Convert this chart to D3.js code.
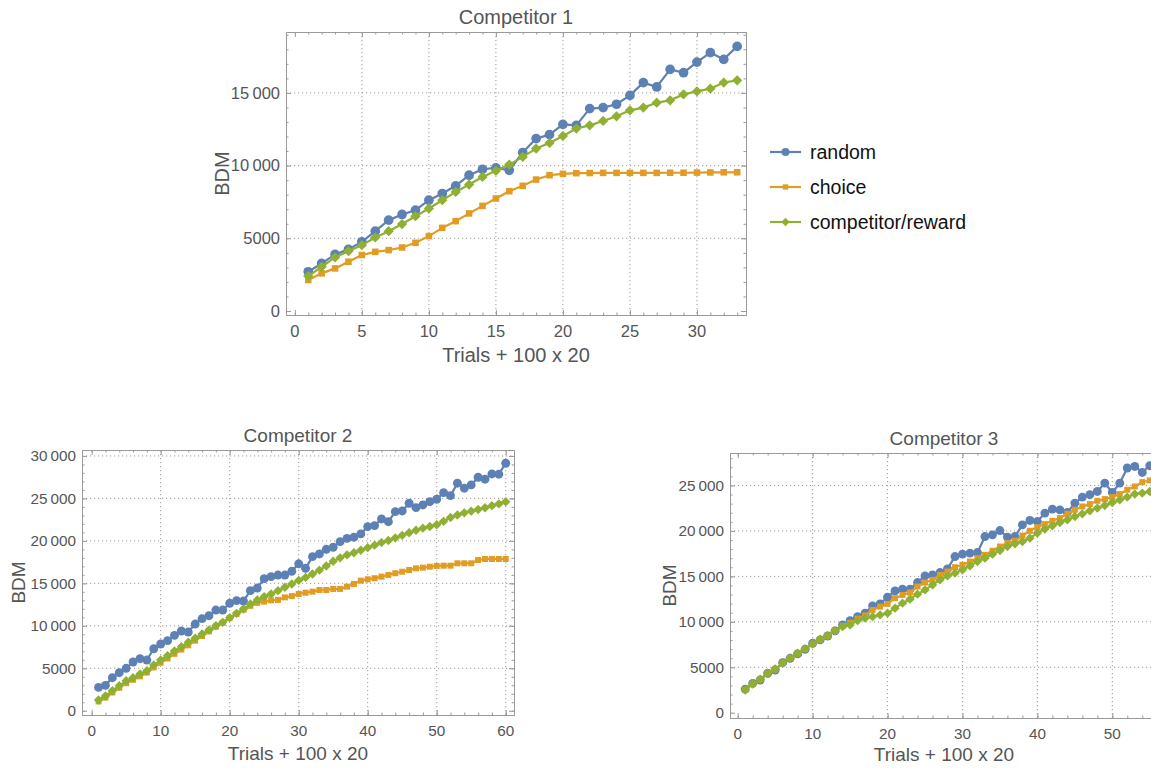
<!DOCTYPE html>
<meta charset="utf-8">
<style>
  body { margin: 0; background: #fff; }
  text { font-family: "Liberation Sans", Arial, sans-serif; }
</style>
<svg width="1151" height="768"></svg>
<script src="https://cdn.jsdelivr.net/npm/d3@7"></script>
<script>

// ---- data ----
var seriesNames = ["random", "choice", "competitor/reward"];
var xLabel = "Trials + 100 x 20";
var yLabel = "BDM";

var c1Random = [2700, 3270, 3890, 4240, 4760, 5490, 6250, 6640, 6940, 7620, 8080, 8610, 9340, 9750, 9840, 9680,
  10900, 11860, 12130, 12840, 12770, 13920, 13990, 14220, 14830, 15710, 15410, 16620, 16390, 17120, 17770, 17310, 18200];
var c1Choice = [2130, 2590, 2930, 3390, 3850, 4070, 4190, 4370, 4690, 5150, 5720, 6180, 6710, 7230, 7740, 8240,
  8610, 9040, 9340, 9430, 9480, 9490, 9500, 9500, 9500, 9500, 9500, 9510, 9510, 9520, 9530, 9540, 9540];
var c1Reward = [2400, 3045, 3690, 4120, 4530, 5060, 5490, 5980, 6520, 7050, 7620, 8190, 8700, 9220, 9640, 10070,
  10600, 11170, 11560, 12040, 12550, 12770, 13070, 13390, 13800, 13990, 14330, 14490, 14900, 15110, 15290, 15710, 15870];

var c2Random = [2750, 2990, 3890, 4480, 5000, 5740, 6130, 5970, 7300, 7860, 8250, 8880, 9390, 9270, 10210, 10840,
  11190, 11860, 11860, 12650, 12960, 12920, 14140, 14450, 15550, 15790, 15980, 15980, 16420, 17300, 16770, 18140,
  18460, 19010, 19250, 19910, 20300, 20430, 20820, 21680, 21800, 22580, 22260, 23440, 23520, 24430, 23910, 24230,
  24620, 24900, 25680, 25330, 26790, 26200, 26590, 27490, 27260, 27880, 27850, 29140];
var c2Choice = [1100, 1550, 2150, 2700, 3250, 3650, 4050, 4500, 5100, 5650, 6150, 6700, 7200, 7700, 8250, 8800,
  9350, 9900, 10350, 10900, 11400, 11900, 12350, 12700, 12850, 13000, 13050, 13350, 13500, 13750, 13900, 14020,
  14220, 14220, 14340, 14340, 14610, 14930, 15320, 15480, 15600, 15790, 15990, 16190, 16370, 16570, 16770, 16850,
  16960, 17050, 17080, 17080, 17360, 17360, 17360, 17750, 17870, 17870, 17870, 17870];
var c2Reward = [1260, 1730, 2360, 2950, 3530, 3890, 4320, 4710, 5380, 5970, 6480, 7030, 7540, 8060, 8530, 9040,
  9510, 10010, 10410, 10960, 11470, 11980, 12570, 13040, 13430, 13750, 14140, 14540, 14930, 15350, 15700, 16100,
  16550, 17050, 17600, 18000, 18350, 18600, 18900, 19200, 19500, 19800, 20050, 20350, 20650, 20950, 21250, 21500,
  21700, 21900, 22300, 22750, 23050, 23300, 23500, 23700, 23900, 24150, 24350, 24600];

var c3Random = [2600, 3230, 3600, 4340, 4700, 5510, 5990, 6470, 6980, 7640, 8010, 8440, 9000, 9660, 10130, 10570,
  10950, 11750, 11970, 12710, 13400, 13590, 13590, 14320, 15050, 15160, 15420, 15830, 17180, 17440, 17560, 17620,
  19380, 19570, 20040, 19320, 19380, 20670, 21150, 21030, 21960, 22400, 22320, 22030, 23060, 23720, 23980, 24340,
  25260, 24230, 25260, 26920, 27090, 26430, 27170];
var c3Choice = [2550, 3200, 3650, 4350, 4750, 5480, 6000, 6500, 7000, 7600, 8050, 8450, 9000, 9550, 9900, 10350,
  10700, 11310, 11670, 11970, 12600, 12960, 13220, 13880, 14320, 14610, 15160, 15530, 16010, 16270, 16630, 17000,
  17370, 17810, 18280, 18660, 18910, 19490, 20010, 20420, 20750, 21110, 21410, 21880, 22320, 22690, 22950, 23310,
  23500, 23720, 24050, 24530, 24890, 25370, 25550];
var c3Reward = [2500, 3160, 3680, 4340, 4810, 5440, 5990, 6540, 7020, 7570, 8080, 8480, 9000, 9470, 9660, 10130,
  10400, 10570, 10760, 10950, 11500, 12050, 12490, 13040, 13510, 14060, 14610, 15050, 15350, 15720, 16150, 16630,
  17000, 17440, 17840, 18280, 18580, 18830, 19200, 19760, 20200, 20560, 20930, 21220, 21590, 21880, 22210, 22510,
  22800, 23130, 23420, 23720, 24050, 24160, 24340];

// ---- styling ----
var colors = ["#5E81B5", "#E19C24", "#8FB032"];
var shapes = [d3.symbolCircle, d3.symbolSquare, d3.symbolSquare];
var rotate = [0, 0, 45];
var sizes = [62, 36, 44];

var svg = d3.select("svg");

function fmt(v) {
  if (Math.abs(v) < 10000) return String(v);
  return d3.format(",")(v).replace(/,/g, "\u2009");
}

function marker(sel, k, scale) {
  sel.attr("d", d3.symbol().type(shapes[k]).size(sizes[k] * scale)).attr("fill", colors[k]);
}

function panel(opt) {
  var g = svg.append("g");
  var x = d3.scaleLinear().domain(opt.xDomain).range([opt.left, opt.right]);
  var y = d3.scaleLinear().domain(opt.yDomain).range([opt.bottom, opt.top]);

  var clipId = "clip" + opt.id;
  svg.append("clipPath").attr("id", clipId)
    .append("rect").attr("x", opt.left).attr("y", opt.top)
    .attr("width", opt.right - opt.left).attr("height", opt.bottom - opt.top);

  // grid
  var grid = g.append("g").attr("stroke", "#9c9c9c").attr("stroke-width", 1)
    .attr("stroke-dasharray", "1.2,2.8").attr("clip-path", "url(#" + clipId + ")");
  grid.selectAll(".gx").data(opt.xTicks.filter(function(t) { return t > 0; })).enter().append("line")
    .attr("x1", function(d) { return x(d); }).attr("x2", function(d) { return x(d); })
    .attr("y1", opt.top).attr("y2", opt.bottom);
  grid.selectAll(".gy").data(opt.yTicks.filter(function(t) { return t > 0; })).enter().append("line")
    .attr("y1", function(d) { return y(d); }).attr("y2", function(d) { return y(d); })
    .attr("x1", opt.left).attr("x2", opt.right);

  // frame axes, ticks pointing inward
  var xMinor = d3.range(0, opt.xDomain[1], opt.xMinor);
  var yMinor = d3.range(0, opt.yDomain[1], 1000);
  function bits(axis, ticks, len) {
    return axis.tickValues(ticks).tickSizeInner(-len).tickSizeOuter(0).tickFormat("");
  }
  [[d3.axisBottom, opt.bottom], [d3.axisTop, opt.top]].forEach(function(a) {
    g.append("g").attr("transform", "translate(0," + a[1] + ")").call(bits(a[0](x), xMinor, 2.5));
    g.append("g").attr("transform", "translate(0," + a[1] + ")").call(bits(a[0](x), opt.xTicks, 5));
  });
  [[d3.axisLeft, opt.left], [d3.axisRight, opt.right]].forEach(function(a) {
    g.append("g").attr("transform", "translate(" + a[1] + ",0)").call(bits(a[0](y), yMinor, 2.5));
    g.append("g").attr("transform", "translate(" + a[1] + ",0)").call(bits(a[0](y), opt.yTicks, 5));
  });
  g.selectAll(".domain").attr("stroke", "#9a9a9a").attr("stroke-width", 1);
  g.selectAll(".tick line").attr("stroke", "#9a9a9a");

  // tick labels
  g.selectAll(".xl").data(opt.xTicks).enter().append("text")
    .attr("x", function(d) { return x(d); }).attr("y", opt.bottom + 16).attr("dy", "0.35em")
    .attr("text-anchor", "middle").attr("font-size", opt.fs[0]).attr("fill", "#555")
    .text(function(d) { return d; });
  g.selectAll(".yl").data(opt.yTicks).enter().append("text")
    .attr("x", opt.left - 6).attr("y", function(d) { return y(d); }).attr("dy", "0.35em")
    .attr("text-anchor", "end").attr("font-size", opt.fs[0]).attr("fill", "#555")
    .text(fmt);

  // titles
  var cx = (opt.left + opt.right) / 2;
  g.append("text").attr("x", cx).attr("y", opt.top - 8).attr("text-anchor", "middle")
    .attr("font-size", opt.fs[1]).attr("fill", "#555").text(opt.title);
  g.append("text").attr("x", cx).attr("y", opt.bottom + opt.xLabelDy).attr("text-anchor", "middle")
    .attr("font-size", opt.fs[2]).attr("fill", "#555").text(xLabel);
  g.append("text").attr("transform", "translate(" + opt.yLabelX + "," + ((opt.top + opt.bottom) / 2) + ") rotate(-90)")
    .attr("text-anchor", "middle").attr("dy", "0.35em").attr("font-size", opt.fs[2]).attr("fill", "#555").text(yLabel);

  // series
  var line = d3.line().x(function(d, i) { return x(i + 1); }).y(function(d) { return y(d); });
  var plot = g.append("g").attr("clip-path", "url(#" + clipId + ")");
  opt.series.forEach(function(s, k) {
    plot.append("path").datum(s).attr("fill", "none").attr("stroke", colors[k])
      .attr("stroke-width", 2.2).attr("stroke-linejoin", "round").attr("d", line);
    plot.selectAll(".m" + k).data(s).enter().append("path")
      .attr("transform", function(d, i) {
        return "translate(" + x(i + 1) + "," + y(d) + ") rotate(" + rotate[k] + ")";
      })
      .call(marker, k, opt.mark);
  });
}

panel({
  id: 1, title: "Competitor 1", left: 286, right: 746, top: 32, bottom: 315,
  xDomain: [-0.66, 33.66], yDomain: [-275, 19190],
  xTicks: [0, 5, 10, 15, 20, 25, 30], xMinor: 1, yTicks: [0, 5000, 10000, 15000],
  yLabelX: 222, xLabelDy: 47, mark: 1.2, fs: [16.5, 20, 20],
  series: [c1Random, c1Choice, c1Reward]
});
panel({
  id: 2, title: "Competitor 2", left: 82, right: 514, top: 450, bottom: 715,
  xDomain: [-1.4, 61.2], yDomain: [-500, 30700],
  xTicks: [0, 10, 20, 30, 40, 50, 60], xMinor: 2, yTicks: [0, 5000, 10000, 15000, 20000, 25000, 30000],
  yLabelX: 18, xLabelDy: 45, mark: 1, fs: [15.3, 19, 19],
  series: [c2Random, c2Choice, c2Reward]
});
panel({
  id: 3, title: "Competitor 3", left: 730, right: 1158, top: 453, bottom: 718,
  xDomain: [-1.03, 56.1], yDomain: [-580, 28570],
  xTicks: [0, 10, 20, 30, 40, 50], xMinor: 2, yTicks: [0, 5000, 10000, 15000, 20000, 25000],
  yLabelX: 669, xLabelDy: 43, mark: 1, fs: [15.3, 19, 19],
  series: [c3Random, c3Choice, c3Reward]
});

// legend
var leg = svg.append("g").attr("transform", "translate(770,152)");
seriesNames.forEach(function(name, k) {
  var row = leg.append("g").attr("transform", "translate(0," + (k * 35) + ")");
  row.append("line").attr("x1", 0).attr("x2", 31).attr("stroke", colors[k]).attr("stroke-width", 2.2);
  row.append("path").attr("transform", "translate(15.5,0) rotate(" + rotate[k] + ")").call(marker, k, 0.8);
  row.append("text").attr("x", 40).attr("dy", "0.35em").attr("font-size", 19.5).attr("fill", "#111").text(name);
});
</script>
